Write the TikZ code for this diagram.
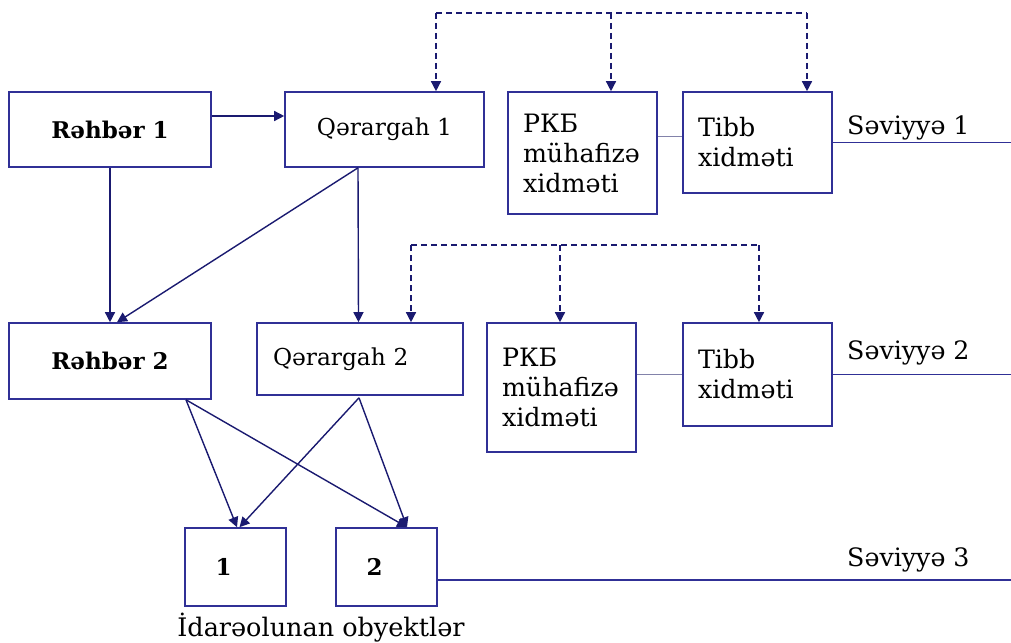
\documentclass[tikz,border=0pt]{standalone}
\usepackage{fontspec}
\setmainfont{DejaVu Serif}
\usetikzlibrary{arrows.meta}
\definecolor{boxline}{RGB}{48,48,150}
\definecolor{arrowline}{RGB}{26,26,112}
\definecolor{thinlink}{RGB}{130,130,170}
\begin{document}
\begin{tikzpicture}[x=1pt,y=-1pt,
  box/.style={draw=boxline,line width=1.6pt,inner sep=0pt,font=\fontsize{23.3}{30}\selectfont},
  boldbox/.style={box,font=\fontsize{23}{30}\selectfont\bfseries},
  leftbox/.style={box,align=left,inner xsep=15pt,font=\fontsize{25.3}{30}\selectfont},
  link/.style={draw=arrowline,line width=1.4pt,-{Triangle[length=10pt,width=10pt]}},
  dlink/.style={link,dash pattern=on 6pt off 4pt},
  dbus/.style={draw=arrowline,line width=1.4pt,dash pattern=on 6pt off 4pt},
  level/.style={draw=boxline,line width=1.3pt},
  tie/.style={draw=thinlink,line width=0.9pt},
  lbl/.style={anchor=west,inner sep=0pt,font=\fontsize{25.3}{30}\selectfont}]
\useasboundingbox (0,0) rectangle (1011,642);

% level 1
\node[boldbox,minimum width=202pt,minimum height=75pt] (r1) at (110,129.5) {Rəhbər 1};
\node[box,minimum width=199pt,minimum height=75pt] (q1) at (384.5,129.5) {Qərargah 1};
\node[leftbox,minimum width=149pt,minimum height=122pt,text width=119pt] (p1) at (582.5,153) {РКБ\\mühafizə\\xidməti};
\node[leftbox,minimum width=149pt,minimum height=101pt,text width=119pt] (t1) at (757.5,142.5) {Tibb\\xidməti};
\node[lbl] (s1) at (847,128) {Səviyyə 1};

% level 2
\node[boldbox,minimum width=202pt,minimum height=76pt] (r2) at (110,361) {Rəhbər 2};
\node[box,minimum width=204pt,minimum height=72pt,align=left,text width=174pt,inner xsep=16pt] (q2) at (360,359) {Qərargah 2};
\node[leftbox,minimum width=149pt,minimum height=129pt,text width=119pt] (p2) at (561.5,387.5) {РКБ\\mühafizə\\xidməti};
\node[leftbox,minimum width=149pt,minimum height=103pt,text width=119pt] (t2) at (757.5,374.5) {Tibb\\xidməti};
\node[lbl] (s2) at (847,353) {Səviyyə 2};

% level 3: controlled objects
\node[boldbox,minimum width=101pt,minimum height=78pt] (o1) at (235.5,567) {\hspace*{-24pt}1};
\node[boldbox,minimum width=101pt,minimum height=78pt] (o2) at (386.5,567) {\hspace*{-24pt}2};
\node[lbl] (s3) at (847,560) {Səviyyə 3};
\node[inner sep=0pt,font=\fontsize{25.5}{30}\selectfont] (objs) at (321,628) {İdarəolunan obyektlər};

% right-hand ends of the level lines
\coordinate (e1) at (1011,142.5);
\coordinate (e2) at (1011,374.5);
\coordinate (e3) at (1011,580);

% dashed buses
\coordinate (u1) at (436,13);
\coordinate (u1b) at (611,13);
\coordinate (u1c) at (807,13);
\coordinate (u2) at (411,245);
\coordinate (u2b) at (560,245);
\coordinate (u2c) at (759,245);

% solid command links
\path[link] ([yshift=13.5pt]r1.east) -- ([yshift=13.5pt]q1.west);
\path[link] (r1.south) -- (r2.north);
\path[link] ([xshift=-26.5pt]q1.south) -- ([xshift=7pt]r2.north);
\path[link] ([xshift=-26.5pt]q1.south) -- ([xshift=-1.5pt]q2.north);
\path[link] ([xshift=76pt]r2.south) -- ([xshift=1.5pt]o1.north);
\path[link] ([xshift=76pt]r2.south) -- ([xshift=20.5pt]o2.north);
\path[link] ([xshift=-1pt,yshift=-2pt]q2.south) -- ([xshift=4pt]o1.north);
\path[link] ([xshift=-1pt,yshift=-2pt]q2.south) -- ([xshift=20.5pt]o2.north);

% dashed coordination links
\path[dbus] (u1) -- (u1c);
\path[dlink] (u1) -- (u1 |- q1.north);
\path[dlink] (u1b) -- (u1b |- p1.north);
\path[dlink] (u1c) -- (u1c |- t1.north);
\path[dbus] (u2) -- (u2c);
\path[dlink] (u2) -- (u2 |- q2.north);
\path[dlink] (u2b) -- (u2b |- p2.north);
\path[dlink] (u2c) -- (u2c |- t2.north);

% ties between services and level lines
\path[tie] (p1.east |- 0,136) -- (t1.west |- 0,136);
\path[tie] (p2.east |- t2.west) -- (t2.west);
\path[level] (t1.east) -- (e1);
\path[level] (t2.east) -- (e2);
\path[level] ([yshift=-13pt]o2.east) -- (e3);
\end{tikzpicture}
\end{document}
